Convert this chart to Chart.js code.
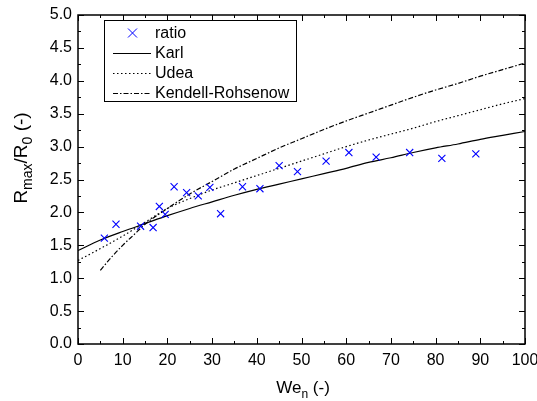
<!DOCTYPE html>
<html>
<head>
  <title>Rmax/R0 vs We</title>
  <style>
    body {
      margin: 0;
      padding: 0;
      background-color: #FFF;
    }

    #chartBox {
      width: 537px;
      height: 401px;
    }
  </style>
</head>
<body>
  <div id="chartBox">
    <canvas id="chart"></canvas>
  </div>

  <script src="https://cdn.jsdelivr.net/npm/chart.js"></script>

  <script>
    // Measured points (ratio)
    var ratioWe = [5.9, 8.5, 14.0, 16.8, 18.2, 19.5, 21.5, 24.3, 26.9, 29.5, 31.9, 36.8, 40.7, 45.0, 49.1, 55.5, 60.6, 66.7, 74.2, 81.4, 89.0];
    var ratioValues = [1.61, 1.82, 1.79, 1.77, 2.09, 1.97, 2.39, 2.30, 2.25, 2.38, 1.98, 2.39, 2.36, 2.71, 2.62, 2.78, 2.91, 2.84, 2.91, 2.82, 2.89];

    // Model curves
    var karlWe = [0, 5, 10, 15, 20, 25, 30, 35, 40, 45, 50, 55, 60, 65, 70, 75, 80, 85, 90, 95, 100];
    var karlValues = [1.42, 1.58, 1.71, 1.83, 1.95, 2.06, 2.16, 2.26, 2.35, 2.43, 2.51, 2.59, 2.67, 2.76, 2.83, 2.91, 2.98, 3.04, 3.11, 3.17, 3.23];

    var udeaWe = [0, 5, 10, 15, 20, 25, 30, 35, 40, 45, 50, 55, 60, 65, 70, 75, 80, 85, 90, 95, 100];
    var udeaValues = [1.27, 1.45, 1.64, 1.85, 2.06, 2.21, 2.34, 2.45, 2.56, 2.67, 2.78, 2.89, 3.00, 3.10, 3.19, 3.28, 3.38, 3.47, 3.56, 3.65, 3.73];

    var kendellWe = [5, 7.5, 10, 12.5, 15, 20, 25, 30, 35, 40, 45, 50, 55, 60, 65, 70, 75, 80, 85, 90, 95, 100];
    var kendellValues = [1.12, 1.32, 1.50, 1.66, 1.82, 2.06, 2.28, 2.47, 2.66, 2.82, 2.98, 3.12, 3.26, 3.39, 3.51, 3.63, 3.75, 3.86, 3.96, 4.07, 4.17, 4.27];

    // Axis ticks
    var xTicks = [0, 10, 20, 30, 40, 50, 60, 70, 80, 90, 100];
    var xMinorTicks = [5, 15, 25, 35, 45, 55, 65, 75, 85, 95];
    var yTicks = [0.0, 0.5, 1.0, 1.5, 2.0, 2.5, 3.0, 3.5, 4.0, 4.5, 5.0];
    var yMinorTicks = [0.25, 0.75, 1.25, 1.75, 2.25, 2.75, 3.25, 3.75, 4.25, 4.75];

    var fontName = '"Liberation Sans", Arial, sans-serif';

    function toPoints(xs, ys) {
      var pts = [];
      for (var i = 0; i < xs.length; i++) {
        pts.push({ x: xs[i], y: ys[i] });
      }
      return pts;
    }

    // Draw text with a subscript part: parts = [[text, isSub], ...]
    function drawSubText(ctx, parts, x, y, bigSize, smallSize) {
      var big = bigSize + 'px ' + fontName;
      var small = smallSize + 'px ' + fontName;
      var total = 0;
      parts.forEach(function(p) {
        ctx.font = p[1] ? small : big;
        total += ctx.measureText(p[0]).width;
      });
      var cx = x - total / 2;
      parts.forEach(function(p) {
        ctx.font = p[1] ? small : big;
        ctx.fillText(p[0], cx, p[1] ? y + 5 : y);
        cx += ctx.measureText(p[0]).width;
      });
    }

    // Frame, inward ticks, axis titles and legend
    var framePlugin = {
      id: 'frame',
      afterDatasetsDraw: function(chart) {
        var ctx = chart.ctx;
        var area = chart.chartArea;
        var xs = chart.scales.x;
        var ys = chart.scales.y;

        ctx.save();
        ctx.strokeStyle = '#000';
        ctx.lineWidth = 1;

        // inward tick marks on all four sides
        function xTick(v, len) {
          var px = Math.round(xs.getPixelForValue(v)) + 0.5;
          ctx.beginPath();
          ctx.moveTo(px, area.bottom);
          ctx.lineTo(px, area.bottom - len);
          ctx.moveTo(px, area.top);
          ctx.lineTo(px, area.top + len);
          ctx.stroke();
        }
        function yTick(v, len) {
          var py = Math.round(ys.getPixelForValue(v)) + 0.5;
          ctx.beginPath();
          ctx.moveTo(area.left, py);
          ctx.lineTo(area.left + len, py);
          ctx.moveTo(area.right, py);
          ctx.lineTo(area.right - len, py);
          ctx.stroke();
        }
        xTicks.forEach(function(v) { xTick(v, 6); });
        xMinorTicks.forEach(function(v) { xTick(v, 3); });
        yTicks.forEach(function(v) { yTick(v, 6); });
        yMinorTicks.forEach(function(v) { yTick(v, 3); });

        // box
        ctx.lineWidth = 1.5;
        ctx.strokeRect(area.left, area.top, area.right - area.left, area.bottom - area.top);

        // axis titles
        ctx.fillStyle = '#000';
        ctx.textBaseline = 'alphabetic';
        ctx.textAlign = 'left';
        drawSubText(ctx, [['We', false], ['n', true], [' (-)', false]], 303, 393, 17, 12);

        ctx.save();
        ctx.translate(27, 158);
        ctx.rotate(-Math.PI / 2);
        drawSubText(ctx, [['R', false], ['max', true], ['/R', false], ['0', true], [' (-)', false]], 0, 0, 19, 14);
        ctx.restore();

        // legend
        var lx = 104.5, ly = 20.5, lw = 192, lh = 81;
        ctx.fillStyle = '#FFF';
        ctx.fillRect(lx, ly, lw, lh);
        ctx.lineWidth = 1;
        ctx.strokeStyle = '#000';
        ctx.strokeRect(lx, ly, lw, lh);

        ctx.font = '16px ' + fontName;
        ctx.textBaseline = 'middle';
        chart.data.datasets.forEach(function(ds, i) {
          var rowY = 33 + i * 20;
          ctx.strokeStyle = ds.borderColor;
          if (ds.type === 'scatter') {
            ctx.lineWidth = 1;
            ctx.setLineDash([]);
            ctx.beginPath();
            ctx.moveTo(128, rowY - 4.5);
            ctx.lineTo(137, rowY + 4.5);
            ctx.moveTo(137, rowY - 4.5);
            ctx.lineTo(128, rowY + 4.5);
            ctx.stroke();
          } else {
            ctx.lineWidth = ds.borderWidth;
            ctx.setLineDash(ds.borderDash || []);
            ctx.beginPath();
            ctx.moveTo(113, Math.round(rowY) + 0.5);
            ctx.lineTo(151, Math.round(rowY) + 0.5);
            ctx.stroke();
          }
          ctx.setLineDash([]);
          ctx.fillStyle = '#000';
          ctx.fillText(ds.label, 155, rowY + 1);
        });
        ctx.restore();
      }
    };

    var chartElement = document.getElementById('chart').getContext('2d');
    window.myChart = new Chart(chartElement, {
      data: {
        datasets: [
          {
            type: 'scatter',
            label: 'ratio',
            data: toPoints(ratioWe, ratioValues),
            borderColor: '#0000FF',
            backgroundColor: '#0000FF',
            pointStyle: 'crossRot',
            pointRadius: 5,
            borderWidth: 1.1,
            order: 0
          },
          {
            type: 'line',
            label: 'Karl',
            data: toPoints(karlWe, karlValues),
            borderColor: '#000',
            borderWidth: 1.2,
            pointRadius: 0,
            cubicInterpolationMode: 'monotone',
            fill: false,
            order: 1
          },
          {
            type: 'line',
            label: 'Udea',
            data: toPoints(udeaWe, udeaValues),
            borderColor: '#000',
            borderWidth: 1.2,
            borderDash: [1.5, 2.5],
            pointRadius: 0,
            cubicInterpolationMode: 'monotone',
            fill: false,
            order: 2
          },
          {
            type: 'line',
            label: 'Kendell-Rohsenow',
            data: toPoints(kendellWe, kendellValues),
            borderColor: '#000',
            borderWidth: 1.2,
            borderDash: [5, 2, 1.5, 2],
            pointRadius: 0,
            cubicInterpolationMode: 'monotone',
            fill: false,
            order: 3
          }
        ]
      },
      options: {
        responsive: true,
        maintainAspectRatio: false,
        animation: false,
        layout: {
          padding: { left: 0, top: 15, right: 12, bottom: 0 }
        },
        plugins: {
          legend: { display: false },
          tooltip: { enabled: false }
        },
        scales: {
          x: {
            type: 'linear',
            min: 0,
            max: 100,
            afterBuildTicks: function(scale) {
              scale.ticks = xTicks.map(function(v) { return { value: v }; });
            },
            afterFit: function(scale) {
              scale.height = 57;
              scale.paddingLeft = 0;
              scale.paddingRight = 0;
            },
            grid: { display: false, drawTicks: false },
            border: { display: false },
            ticks: {
              color: '#000',
              padding: 7,
              maxRotation: 0,
              autoSkip: false,
              font: { family: fontName, size: 16 },
              callback: function(v) { return String(v); }
            }
          },
          y: {
            type: 'linear',
            min: 0,
            max: 5,
            afterBuildTicks: function(scale) {
              scale.ticks = yTicks.map(function(v) { return { value: v }; });
            },
            afterFit: function(scale) {
              scale.width = 78;
              scale.paddingTop = 0;
              scale.paddingBottom = 0;
            },
            grid: { display: false, drawTicks: false },
            border: { display: false },
            ticks: {
              color: '#000',
              padding: 6,
              autoSkip: false,
              font: { family: fontName, size: 16 },
              callback: function(v) { return v.toFixed(1); }
            }
          }
        }
      },
      plugins: [framePlugin]
    });
  </script>
</body>
</html>
